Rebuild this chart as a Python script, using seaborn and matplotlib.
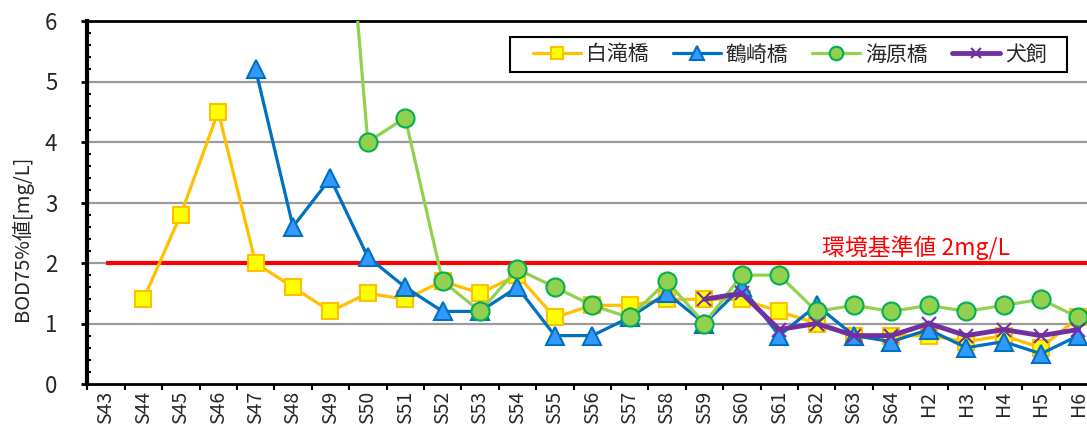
import numpy as np
import pandas as pd
import matplotlib
matplotlib.use("Agg")
import matplotlib.pyplot as plt
from matplotlib.patches import Rectangle
import seaborn as sns

# Fiscal years (Showa 43 .. Showa 64, Heisei 2 .. Heisei 6)
years = ["S43", "S44", "S45", "S46", "S47", "S48", "S49", "S50", "S51", "S52",
         "S53", "S54", "S55", "S56", "S57", "S58", "S59", "S60", "S61", "S62",
         "S63", "S64", "H2", "H3", "H4", "H5", "H6"]

nan = np.nan
shirataki = [nan, 1.4, 2.8, 4.5, 2.0, 1.6, 1.2, 1.5, 1.4, 1.7,
             1.5, 1.8, 1.1, 1.3, 1.3, 1.4, 1.4, 1.4, 1.2, 1.0,
             0.8, 0.8, 0.8, 0.7, 0.8, 0.6, 1.1]
tsurusaki = [nan, nan, nan, nan, 5.2, 2.6, 3.4, 2.1, 1.6, 1.2,
             1.2, 1.6, 0.8, 0.8, 1.1, 1.5, 1.0, 1.6, 0.8, 1.3,
             0.8, 0.7, 0.9, 0.6, 0.7, 0.5, 0.8]
kaibara = [nan, nan, nan, nan, nan, nan, 11.4, 4.0, 4.4, 1.7,
           1.2, 1.9, 1.6, 1.3, 1.1, 1.7, 1.0, 1.8, 1.8, 1.2,
           1.3, 1.2, 1.3, 1.2, 1.3, 1.4, 1.1]
inukai = [nan, nan, nan, nan, nan, nan, nan, nan, nan, nan,
          nan, nan, nan, nan, nan, nan, 1.4, 1.5, 0.9, 1.0,
          0.8, 0.8, 1.0, 0.8, 0.9, 0.8, 0.9]

series_names = ["白滝橋", "鶴崎橋", "海原橋", "犬飼"]
series_values = [shirataki, tsurusaki, kaibara, inukai]

standard_value = 2.0
standard_label = "環境基準値 2mg/L"
y_label = "BOD75%値[mg/L]"

styles = {
    "白滝橋": dict(color="#FFC000", marker="s", markersize=12, markerfacecolor="#FFFF00",
                 markeredgecolor="#FFC000", markeredgewidth=1.5, linewidth=2.3),
    "鶴崎橋": dict(color="#0070C0", marker="^", markersize=13, markerfacecolor="#3399FF",
                 markeredgecolor="#0070C0", markeredgewidth=1.5, linewidth=2.3),
    "海原橋": dict(color="#92D050", marker="o", markersize=13, markerfacecolor="#92D050",
                 markeredgecolor="#00B050", markeredgewidth=1.5, linewidth=2.3),
    "犬飼": dict(color="#7030A0", marker="x", markersize=10, markeredgecolor="#7030A0",
               markeredgewidth=1.5, linewidth=3.5),
}

records = []
for name, vals in zip(series_names, series_values):
    for i, (yr, v) in enumerate(zip(years, vals)):
        records.append({"series": name, "pos": i, "year": yr, "value": v})
df = pd.DataFrame(records).dropna(subset=["value"])

sns.set_style("white")
plt.rcParams["font.family"] = ["Noto Sans CJK JP", "DejaVu Sans"]

W, H = 1087, 426
fig = plt.figure(figsize=(W / 100, H / 100), dpi=100)
n = len(years)
px_left, px_top, px_bottom = 87.3, 21.0, 384.0
step = 37.4
ax = fig.add_axes([px_left / W, (H - px_bottom) / H,
                   step * n / W, (px_bottom - px_top) / H])

# gridlines
for gy in range(1, 6):
    ax.axhline(gy, color="#9A9A9A", linewidth=1.6, zorder=0)

# environmental standard line
ax.hlines(standard_value, 0, n, color="#FF0000", linewidth=3.0, zorder=1)
ax.text(21.65, standard_value + 0.26, standard_label, color="#FF0000",
        fontsize=16.5, ha="center", va="center")

for name in series_names:
    sub = df[df["series"] == name]
    sns.lineplot(data=sub, x="pos", y="value", ax=ax, label=name,
                 zorder=3, **styles[name])

ax.set_xlim(-0.5, n - 0.5)
ax.set_ylim(0, 6)

# x axis: ticks on category boundaries, labels at centers
bounds = np.arange(-0.5, n, 1.0)
ax.set_xticks(bounds)
ax.set_xticklabels([""] * len(bounds))
ax.set_xticks(np.arange(n), minor=True)
ax.set_xticklabels(years, minor=True, rotation=90, fontsize=14)
ax.tick_params(axis="x", which="major", direction="out", length=4.5, width=1.5,
               color="black", bottom=True)
ax.tick_params(axis="x", which="minor", length=0, pad=5)

# y axis
ax.set_yticks(np.arange(0, 7, 1))
ax.set_yticklabels([str(v) for v in range(7)], fontsize=16)
ax.set_yticks(np.arange(0, 6.01, 0.2), minor=True)
ax.tick_params(axis="y", which="major", direction="out", length=4.5, width=2,
               color="black", left=True, pad=17)
ax.tick_params(axis="y", which="minor", direction="in", length=3, width=1.5,
               color="black", left=True)

ax.set_xlabel("")
ax.set_ylabel("")
fig.text(22 / W, 1 - 238 / H, y_label, rotation=90, ha="center", va="center",
         fontsize=14.5)

for side in ["top", "bottom", "left", "right"]:
    ax.spines[side].set_color("black")
ax.spines["left"].set_linewidth(3.0)
ax.spines["bottom"].set_linewidth(2.0)
ax.spines["top"].set_linewidth(2.0)
ax.spines["right"].set_linewidth(2.0)

# legend entries, with a separate outline box around them
leg = ax.legend(loc="center right", bbox_to_anchor=(1047 / W, 1 - 54.5 / H),
                bbox_transform=fig.transFigure, borderaxespad=0, borderpad=0,
                ncol=4, fontsize=15, frameon=False, handlelength=2.3,
                handletextpad=0.25, columnspacing=1.15, markerscale=0.75)
fig.patches.append(Rectangle((510 / W, 1 - 72 / H), 557 / W, 35 / H,
                             transform=fig.transFigure, fill=False,
                             edgecolor="black", linewidth=1.5, zorder=5))

fig.savefig("out.png", dpi=100)
